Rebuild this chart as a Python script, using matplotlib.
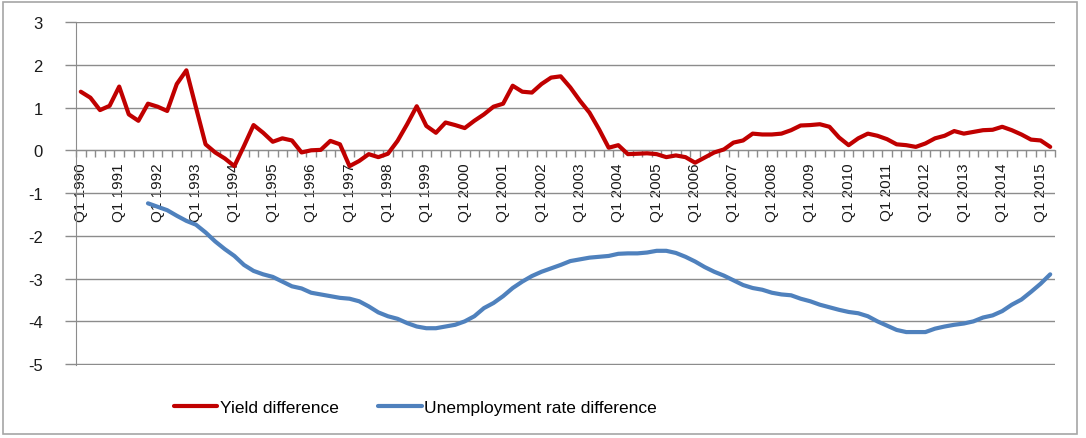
import numpy as np
import matplotlib
matplotlib.use("Agg")
import matplotlib.pyplot as plt
from matplotlib.patches import Rectangle

plt.rcParams['font.family'] = ['Liberation Sans', 'DejaVu Sans']
plt.rcParams['axes.unicode_minus'] = False

# Quarterly categories Q1 1990 .. Q2 2015
years = list(range(1990, 2016))
quarters = [f"Q{q} {y}" for y in years for q in range(1, 5)][:102]

# Yield difference (from Q1 1990)
yield_diff = [
    1.37, 1.23, 0.94, 1.04, 1.49, 0.84, 0.69, 1.09, 1.02, 0.92,
    1.55, 1.87, 1.00, 0.14, -0.05, -0.19, -0.37, 0.10, 0.59, 0.41,
    0.20, 0.28, 0.23, -0.05, 0.00, 0.01, 0.22, 0.14, -0.37, -0.25,
    -0.09, -0.16, -0.08, 0.22, 0.61, 1.03, 0.57, 0.41, 0.65, 0.59,
    0.52, 0.69, 0.84, 1.02, 1.09, 1.51, 1.37, 1.35, 1.55, 1.70,
    1.73, 1.47, 1.16, 0.88, 0.49, 0.06, 0.12, -0.09, -0.08, -0.07,
    -0.09, -0.16, -0.12, -0.16, -0.29, -0.17, -0.05, 0.02, 0.18, 0.23,
    0.39, 0.37, 0.37, 0.39, 0.47, 0.58, 0.59, 0.61, 0.55, 0.30,
    0.12, 0.28, 0.39, 0.34, 0.26, 0.14, 0.12, 0.08, 0.16, 0.28,
    0.34, 0.45, 0.39, 0.43, 0.47, 0.48, 0.55, 0.47, 0.37, 0.25,
    0.23, 0.08,
]

# Unemployment rate difference (from Q4 1991)
unemp_start = 7
unemp_diff = [
    -1.24, -1.32, -1.40, -1.53, -1.65, -1.74, -1.92, -2.13, -2.31, -2.47,
    -2.68, -2.82, -2.90, -2.96, -3.07, -3.18, -3.23, -3.33, -3.37, -3.41,
    -3.45, -3.47, -3.53, -3.65, -3.79, -3.88, -3.94, -4.04, -4.12, -4.16,
    -4.16, -4.12, -4.08, -4.00, -3.88, -3.69, -3.57, -3.41, -3.22, -3.07,
    -2.94, -2.84, -2.76, -2.68, -2.59, -2.55, -2.51, -2.49, -2.47, -2.42,
    -2.41, -2.41, -2.39, -2.35, -2.35, -2.40, -2.49, -2.60, -2.73, -2.84,
    -2.93, -3.04, -3.15, -3.22, -3.26, -3.33, -3.37, -3.39, -3.47, -3.53,
    -3.61, -3.67, -3.73, -3.78, -3.81, -3.88, -4.00, -4.10, -4.20, -4.25,
    -4.25, -4.25, -4.17, -4.12, -4.08, -4.05, -4.00, -3.91, -3.86, -3.76,
    -3.61, -3.49, -3.31, -3.12, -2.90,
]

grid_col = '#8c8c8c'
fig = plt.figure(figsize=(10.86, 4.39), dpi=100)
ax = fig.add_axes([76 / 1086, 73 / 439, 979 / 1086, 343 / 439])

x_all = np.arange(len(quarters))
ax.plot(x_all, yield_diff, color='#C00000', lw=3.0, label='Yield difference',
        solid_joinstyle='round', solid_capstyle='round', zorder=3)
ax.plot(x_all[unemp_start:unemp_start + len(unemp_diff)], unemp_diff,
        color='#4F81BD', lw=3.0, label='Unemployment rate difference',
        solid_joinstyle='round', solid_capstyle='round', zorder=3)

ax.set_xlim(-0.5, len(quarters) - 0.5)
ax.set_ylim(-5.02, 3)
ax.set_yticks(range(-5, 4))
ax.yaxis.grid(True, color=grid_col, lw=1.0)
ax.set_axisbelow(True)

for s in ['top', 'right']:
    ax.spines[s].set_visible(False)
ax.spines['left'].set_color(grid_col)
ax.spines['bottom'].set_color(grid_col)
ax.spines['bottom'].set_position(('data', 0))
ax.spines['bottom'].set_zorder(2)

# category labels every 4th quarter, tick marks at category boundaries
ax.set_xticks(x_all[::4])
ax.set_xticklabels([quarters[i] for i in x_all[::4]], rotation=90,
                   fontsize=11, color='#1a1a1a')
ax.set_xticks(np.arange(-0.5, len(quarters)), minor=True)
ax.tick_params(axis='x', which='major', length=0, pad=9)
ax.tick_params(axis='x', which='minor', length=5, color=grid_col, width=1)
ax.tick_params(axis='y', length=8, color=grid_col, width=1, pad=16,
               labelsize=12, labelcolor='#1a1a1a')

fig.legend(loc='center left', bbox_to_anchor=(158 / 1086, 31 / 439),
           ncol=2, frameon=False, fontsize=12.5, handlelength=2.5,
           handletextpad=0.15, columnspacing=2.3)

fig.patches.append(Rectangle((3 / 1086, 4 / 439), 1074 / 1086, 432 / 439,
                             transform=fig.transFigure, fill=False,
                             edgecolor='#a6a6a6', lw=1.2))

fig.savefig('out.png', dpi=100)
